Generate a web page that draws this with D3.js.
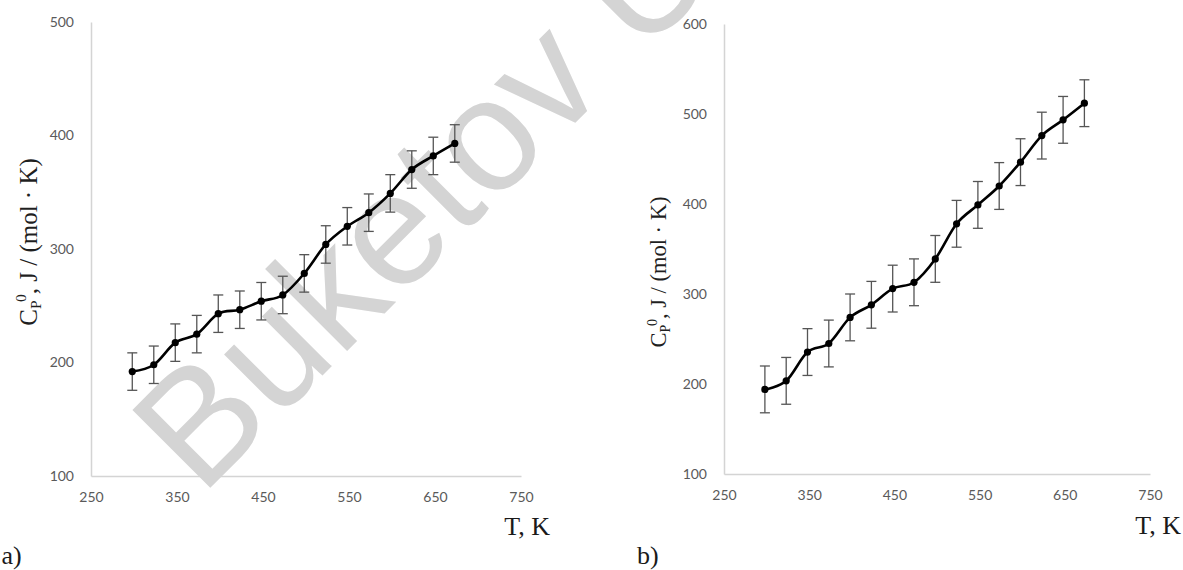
<!DOCTYPE html>
<html><head><meta charset="utf-8">
<script src="https://cdn.jsdelivr.net/npm/d3@7"></script>
<style>
html,body{margin:0;padding:0;background:#fff;overflow:hidden;}
svg{display:block;}
</style></head>
<body>
<svg id="chart" width="1183" height="570"></svg>
<script>
// ---- data ----
const temperatures = [298, 323, 348, 373, 398, 423, 448, 473, 498, 523, 548, 573, 598, 623, 648, 673];
const cpA = [192, 198, 217.5, 225, 243, 246.5, 254, 259.5, 278.5, 304, 320, 332, 349, 370, 382, 393];
const errA = [16.5, 16.5, 16.5, 16.5, 16.5, 16.5, 16.5, 16.5, 16.5, 16.5, 16.5, 16.5, 16.5, 16.5, 16.5, 16.5];
const cpB = [194, 203.5, 235.5, 245, 274, 288, 306, 313, 339, 378, 399, 420, 446.5, 476, 493.5, 512];
const errB = [26, 26, 26, 26, 26, 26, 26, 26, 26, 26, 26, 26, 26, 26, 26, 26];
const xTickValues = [250, 350, 450, 550, 650, 750];
const yTicksA = [100, 200, 300, 400, 500];
const yTicksB = [100, 200, 300, 400, 500, 600];
const panelLabels = ["a)", "b)"];

const svg = d3.select("#chart");

// ---- watermark (behind everything) ----
svg.append("text")
  .attr("transform", "translate(201,497) rotate(-45)")
  .attr("font-family", "Liberation Sans, Arial, sans-serif")
  .attr("font-size", 160)
  .attr("fill", "#d4d4d4")
  .text("Buketov U");

const panels = [
  {cp: cpA, err: errA, yTicks: yTicksA, yDom: [100, 500],
   x0: 91, x1: 521, yTop: 22, yBot: 476,
   titleX: 36.5, titleY: 242, titleSize: 25,
   tkX: 550, tkY: 535, plX: 1.5, plY: 564, label: panelLabels[0]},
  {cp: cpB, err: errB, yTicks: yTicksB, yDom: [100, 600],
   x0: 724, x1: 1150, yTop: 24, yBot: 474,
   titleX: 666, titleY: 272, titleSize: 22.5,
   tkX: 1181, tkY: 534, plX: 637, plY: 564, label: panelLabels[1]}
];

panels.forEach(p => {
  const g = svg.append("g");
  const x = d3.scaleLinear().domain([250, 750]).range([p.x0, p.x1]);
  const y = d3.scaleLinear().domain(p.yDom).range([p.yBot, p.yTop]);

  // axes
  const xa = g.append("g").attr("transform", `translate(0,${p.yBot})`)
    .call(d3.axisBottom(x).tickValues(xTickValues).tickSize(0).tickPadding(16).tickFormat(d3.format("d")));
  const ya = g.append("g").attr("transform", `translate(${p.x0},0)`)
    .call(d3.axisLeft(y).tickValues(p.yTicks).tickSize(0).tickPadding(17).tickFormat(d3.format("d")));
  [xa, ya].forEach(a => {
    a.select(".domain").attr("stroke", "#d4d4d4").attr("stroke-width", 1.5);
    a.selectAll("text").attr("font-family", "Lato, 'Open Sans', sans-serif")
      .attr("font-size", 14).attr("fill", "#5a5a5a");
  });

  // error bars
  const eb = g.append("g").attr("stroke", "#555").attr("stroke-width", 1.3).attr("fill", "none");
  temperatures.forEach((t, i) => {
    const cx = x(t), lo = y(p.cp[i] - p.err[i]), hi = y(p.cp[i] + p.err[i]);
    eb.append("line").attr("x1", cx).attr("x2", cx).attr("y1", lo).attr("y2", hi);
    eb.append("line").attr("x1", cx - 5).attr("x2", cx + 5).attr("y1", lo).attr("y2", lo);
    eb.append("line").attr("x1", cx - 5).attr("x2", cx + 5).attr("y1", hi).attr("y2", hi);
  });

  // smoothed line
  const line = d3.line().x((d, i) => x(temperatures[i])).y(d => y(d)).curve(d3.curveCatmullRom.alpha(0));
  g.append("path").datum(p.cp).attr("d", line)
    .attr("fill", "none").attr("stroke", "#000").attr("stroke-width", 2.6);

  // markers
  g.selectAll("circle.pt").data(p.cp).enter().append("circle")
    .attr("cx", (d, i) => x(temperatures[i])).attr("cy", d => y(d)).attr("r", 3.6).attr("fill", "#000");

  // y-axis title
  const tt = g.append("text")
    .attr("transform", `translate(${p.titleX},${p.titleY}) rotate(-90)`)
    .attr("text-anchor", "middle")
    .attr("font-family", "'Liberation Serif', 'Times New Roman', serif")
    .attr("font-size", p.titleSize).attr("fill", "#1f1f1f");
  tt.append("tspan").text("C");
  tt.append("tspan").attr("font-size", p.titleSize * 0.62).attr("dy", "0.28em").text("P");
  tt.append("tspan").attr("font-size", p.titleSize * 0.62).attr("dy", "-0.95em").attr("dx", "-0.1em").text("0");
  tt.append("tspan").attr("dy", "0.42em").text(", J / (mol · K)");

  // x-axis title
  g.append("text").attr("x", p.tkX).attr("y", p.tkY).attr("text-anchor", "end")
    .attr("font-family", "'Liberation Serif', 'Times New Roman', serif")
    .attr("font-size", 26).attr("fill", "#1a1a1a").text("T, K");

  // panel label
  g.append("text").attr("x", p.plX).attr("y", p.plY)
    .attr("font-family", "'Liberation Serif', 'Times New Roman', serif")
    .attr("font-size", 26).attr("fill", "#1a1a1a").text(p.label);
});
</script>
</body></html>
